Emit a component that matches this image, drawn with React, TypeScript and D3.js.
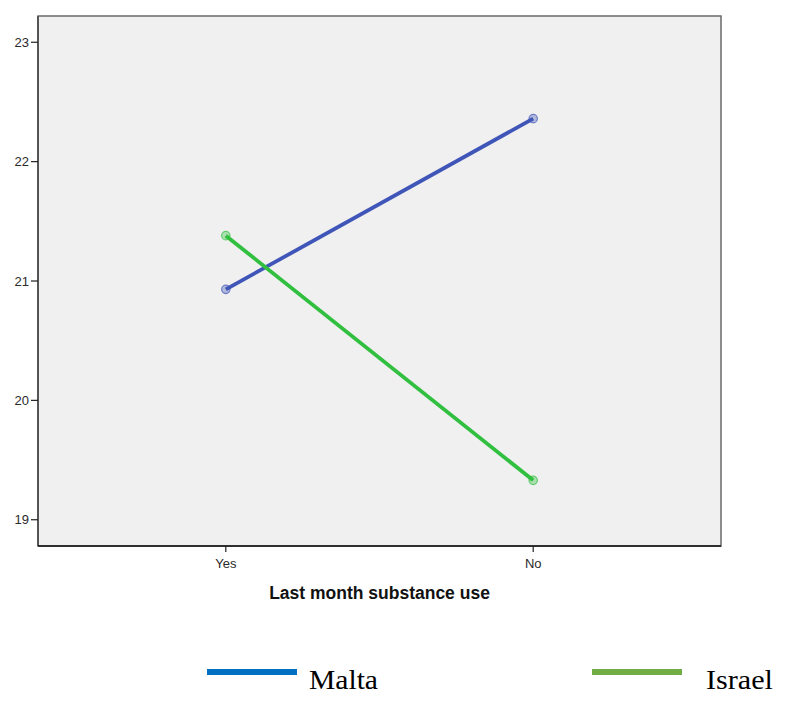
import * as d3 from 'd3';

const categories = ['Yes', 'No'];
const maltaValues = [20.93, 22.36];
const israelValues = [21.38, 19.33];
const yTicks = [19, 20, 21, 22, 23];

const series = [
  { name: 'Malta', values: maltaValues, line: '#4055b8', legend: '#0070c0' },
  { name: 'Israel', values: israelValues, line: '#31bf3f', legend: '#70ad47' },
];

const W = 785;
const H = 706;
const plot = { left: 38, top: 16, right: 721, bottom: 546 };

export default function App() {
  const x = d3
    .scalePoint<string>()
    .domain(categories)
    .range([plot.left, plot.right])
    .padding(0.611);
  const y = d3.scaleLinear().domain([18.78, 23.22]).range([plot.bottom, plot.top]);

  const line = d3
    .line<number>()
    .x((_, i) => x(categories[i]) ?? 0)
    .y((d) => y(d));

  const tickFont = { fontFamily: '"Liberation Sans", Arial, sans-serif', fontSize: 13, fill: '#2a2a2a' };

  return (
    <svg
      width={W}
      height={H}
      style={{ position: 'absolute', left: 0, top: 0, background: '#fff' }}
    >
      {/* plot frame */}
      <rect
        x={plot.left}
        y={plot.top}
        width={plot.right - plot.left}
        height={plot.bottom - plot.top}
        fill="#f0f0f0"
        stroke="#6a6a6a"
        strokeWidth={1.5}
      />
      <line x1={plot.left} x2={plot.left} y1={plot.top} y2={plot.bottom} stroke="#555" strokeWidth={2} />
      <line x1={plot.left} x2={plot.right} y1={plot.bottom} y2={plot.bottom} stroke="#111" strokeWidth={1.5} />

      {/* y axis */}
      {yTicks.map((t) => (
        <g key={t}>
          <line x1={plot.left - 7} x2={plot.left} y1={y(t)} y2={y(t)} stroke="#222" strokeWidth={1.2} />
          <text x={plot.left - 9} y={y(t)} dy="0.35em" textAnchor="end" style={tickFont}>
            {t}
          </text>
        </g>
      ))}

      {/* x axis */}
      {categories.map((c) => (
        <g key={c}>
          <line x1={x(c)} x2={x(c)} y1={plot.bottom} y2={plot.bottom + 6} stroke="#222" strokeWidth={1.2} />
          <text x={x(c)} y={plot.bottom + 22} textAnchor="middle" style={tickFont}>
            {c}
          </text>
        </g>
      ))}
      <text
        x={(plot.left + plot.right) / 2}
        y={599}
        textAnchor="middle"
        style={{ fontFamily: '"Liberation Sans", Arial, sans-serif', fontSize: 17.5, fontWeight: 'bold', fill: '#111' }}
      >
        Last month substance use
      </text>

      {/* lines and markers */}
      {series.map((s) => (
        <g key={s.name}>
          <path d={line(s.values) ?? ''} fill="none" stroke={s.line} strokeWidth={3.8} />
          {s.values.map((v, i) => (
            <circle
              key={i}
              cx={x(categories[i])}
              cy={y(v)}
              r={4.2}
              fill={s.line}
              fillOpacity={0.35}
              stroke={s.line}
              strokeOpacity={0.7}
              strokeWidth={1.2}
            />
          ))}
        </g>
      ))}

      {/* legend */}
      {series.map((s, i) => {
        const lx = i === 0 ? 207 : 592;
        return (
          <g key={s.name}>
            <line x1={lx} x2={lx + 90} y1={672} y2={672} stroke={s.legend} strokeWidth={6} />
            <text
              x={i === 0 ? 309 : 706}
              y={689}
              textLength={i === 0 ? 69 : 67}
              lengthAdjust="spacingAndGlyphs"
              style={{ fontFamily: '"Liberation Serif", "Times New Roman", serif', fontSize: 27.5, fill: '#000' }}
            >
              {s.name}
            </text>
          </g>
        );
      })}
    </svg>
  );
}
